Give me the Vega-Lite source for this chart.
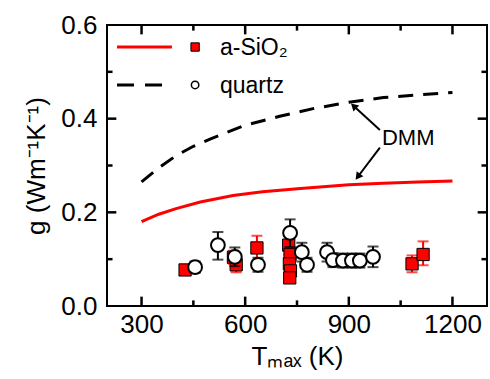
{
  "$schema": "https://vega.github.io/schema/vega-lite/v6.json",
  "width": 380,
  "height": 281,
  "autosize": "none",
  "padding": {"left": 107, "top": 25, "right": 3, "bottom": 73},
  "background": "white",
  "config": {
    "font": "Liberation Sans",
    "view": {"stroke": "black", "strokeWidth": 2},
    "axis": {
      "domain": false,
      "grid": false,
      "ticks": false,
      "labelFont": "Liberation Sans", "labelFontSize": 26, "labelColor": "black",
      "titleFont": "Liberation Sans", "titleFontSize": 26, "titleFontWeight": "normal", "titleColor": "black"
    }
  },
  "datasets": {
    "curves": [
      {"T": 300, "g": 0.18, "series": "a-SiO2"},
      {"T": 350, "g": 0.196, "series": "a-SiO2"},
      {"T": 400, "g": 0.208, "series": "a-SiO2"},
      {"T": 470, "g": 0.222, "series": "a-SiO2"},
      {"T": 565, "g": 0.236, "series": "a-SiO2"},
      {"T": 650, "g": 0.244, "series": "a-SiO2"},
      {"T": 760, "g": 0.251, "series": "a-SiO2"},
      {"T": 900, "g": 0.259, "series": "a-SiO2"},
      {"T": 1000, "g": 0.262, "series": "a-SiO2"},
      {"T": 1100, "g": 0.265, "series": "a-SiO2"},
      {"T": 1200, "g": 0.267, "series": "a-SiO2"},
      {"T": 300, "g": 0.265, "series": "quartz"},
      {"T": 350, "g": 0.295, "series": "quartz"},
      {"T": 400, "g": 0.321, "series": "quartz"},
      {"T": 450, "g": 0.341, "series": "quartz"},
      {"T": 500, "g": 0.357, "series": "quartz"},
      {"T": 600, "g": 0.386, "series": "quartz"},
      {"T": 700, "g": 0.405, "series": "quartz"},
      {"T": 800, "g": 0.422, "series": "quartz"},
      {"T": 900, "g": 0.435, "series": "quartz"},
      {"T": 1000, "g": 0.445, "series": "quartz"},
      {"T": 1100, "g": 0.451, "series": "quartz"},
      {"T": 1200, "g": 0.456, "series": "quartz"}
    ],
    "asio2": [
      {"T": 426, "g": 0.077, "lo": 0.067, "hi": 0.087},
      {"T": 566, "g": 0.104, "lo": 0.09, "hi": 0.118},
      {"T": 574, "g": 0.088, "lo": 0.072, "hi": 0.104},
      {"T": 634, "g": 0.124, "lo": 0.097, "hi": 0.15},
      {"T": 726, "g": 0.13, "lo": 0.11, "hi": 0.155},
      {"T": 730, "g": 0.11, "lo": 0.095, "hi": 0.125},
      {"T": 728, "g": 0.09, "lo": 0.078, "hi": 0.102},
      {"T": 731, "g": 0.075, "lo": 0.062, "hi": 0.088},
      {"T": 729, "g": 0.06, "lo": 0.05, "hi": 0.07},
      {"T": 1083, "g": 0.09, "lo": 0.072, "hi": 0.108},
      {"T": 1115, "g": 0.11, "lo": 0.087, "hi": 0.138}
    ],
    "quartz": [
      {"T": 455, "g": 0.083, "lo": 0.071, "hi": 0.095},
      {"T": 521, "g": 0.13, "lo": 0.099, "hi": 0.158},
      {"T": 570, "g": 0.105, "lo": 0.085, "hi": 0.125},
      {"T": 637, "g": 0.088, "lo": 0.073, "hi": 0.103},
      {"T": 730, "g": 0.156, "lo": 0.126, "hi": 0.185},
      {"T": 764, "g": 0.115, "lo": 0.095, "hi": 0.135},
      {"T": 779, "g": 0.088, "lo": 0.073, "hi": 0.103},
      {"T": 837, "g": 0.115, "lo": 0.095, "hi": 0.135},
      {"T": 854, "g": 0.098, "lo": 0.083, "hi": 0.113},
      {"T": 883, "g": 0.097, "lo": 0.082, "hi": 0.112},
      {"T": 909, "g": 0.097, "lo": 0.082, "hi": 0.112},
      {"T": 932, "g": 0.097, "lo": 0.082, "hi": 0.112},
      {"T": 970, "g": 0.105, "lo": 0.083, "hi": 0.127}
    ],
    "xticks": [
      {"T": 300, "kind": "major"}, {"T": 600, "kind": "major"}, {"T": 900, "kind": "major"}, {"T": 1200, "kind": "major"},
      {"T": 450, "kind": "minor"}, {"T": 750, "kind": "minor"}, {"T": 1050, "kind": "minor"}
    ],
    "yticks": [
      {"g": 0.2, "kind": "major"}, {"g": 0.4, "kind": "major"},
      {"g": 0.1, "kind": "minor"}, {"g": 0.3, "kind": "minor"}, {"g": 0.5, "kind": "minor"}
    ],
    "legendLines": [
      {"x": 229, "x2": 388, "g": 0.553, "series": "a-SiO2", "label": "a-SiO₂", "mx": 455, "tx": 527},
      {"x": 229, "x2": 388, "g": 0.472, "series": "quartz", "label": "quartz", "mx": 455, "tx": 527}
    ],
    "arrows": [
      {"x": 990, "y": 0.376, "x2": 914, "y2": 0.427, "which": "up"},
      {"x": 990, "y": 0.338, "x2": 926, "y2": 0.276, "which": "down"}
    ],
    "notes": [{"T": 996, "g": 0.359, "text": "DMM"}]
  },
  "layer": [
    {
      "data": {"name": "curves"},
      "transform": [{"filter": "datum.series === 'a-SiO2'"}],
      "mark": {"type": "line", "color": "#ff0000", "strokeWidth": 3},
      "encoding": {
        "x": {"field": "T", "type": "quantitative",
          "scale": {"domain": [200, 1300], "nice": false, "zero": false},
          "axis": {"orient": "bottom", "values": [300, 600, 900, 1200], "format": "d",
            "labelPadding": 5, "title": "Tₘₐₓ (K)", "titlePadding": 6}},
        "y": {"field": "g", "type": "quantitative",
          "scale": {"domain": [0, 0.6], "nice": false},
          "axis": {"orient": "left", "values": [0, 0.2, 0.4, 0.6], "format": ".1f",
            "labelPadding": 10, "title": "g (Wm⁻¹K⁻¹)", "titlePadding": 11}}
      }
    },
    {
      "data": {"name": "xticks"},
      "transform": [{"filter": "datum.kind === 'major'"}],
      "mark": {"type": "rule", "color": "black", "strokeWidth": 2.5},
      "encoding": {"x": {"field": "T", "type": "quantitative"}, "y": {"datum": 0}, "y2": {"datum": 0.02}}
    },
    {
      "data": {"name": "xticks"},
      "transform": [{"filter": "datum.kind === 'major'"}],
      "mark": {"type": "rule", "color": "black", "strokeWidth": 2.5},
      "encoding": {"x": {"field": "T", "type": "quantitative"}, "y": {"datum": 0.6}, "y2": {"datum": 0.58}}
    },
    {
      "data": {"name": "xticks"},
      "transform": [{"filter": "datum.kind === 'minor'"}],
      "mark": {"type": "rule", "color": "black", "strokeWidth": 2.5},
      "encoding": {"x": {"field": "T", "type": "quantitative"}, "y": {"datum": 0}, "y2": {"datum": 0.012}}
    },
    {
      "data": {"name": "xticks"},
      "transform": [{"filter": "datum.kind === 'minor'"}],
      "mark": {"type": "rule", "color": "black", "strokeWidth": 2.5},
      "encoding": {"x": {"field": "T", "type": "quantitative"}, "y": {"datum": 0.6}, "y2": {"datum": 0.588}}
    },
    {
      "data": {"name": "yticks"},
      "transform": [{"filter": "datum.kind === 'major'"}],
      "mark": {"type": "rule", "color": "black", "strokeWidth": 2.5},
      "encoding": {"y": {"field": "g", "type": "quantitative"}, "x": {"datum": 200}, "x2": {"datum": 227}}
    },
    {
      "data": {"name": "yticks"},
      "transform": [{"filter": "datum.kind === 'major'"}],
      "mark": {"type": "rule", "color": "black", "strokeWidth": 2.5},
      "encoding": {"y": {"field": "g", "type": "quantitative"}, "x": {"datum": 1300}, "x2": {"datum": 1273}}
    },
    {
      "data": {"name": "yticks"},
      "transform": [{"filter": "datum.kind === 'minor'"}],
      "mark": {"type": "rule", "color": "black", "strokeWidth": 2.5},
      "encoding": {"y": {"field": "g", "type": "quantitative"}, "x": {"datum": 200}, "x2": {"datum": 216}}
    },
    {
      "data": {"name": "yticks"},
      "transform": [{"filter": "datum.kind === 'minor'"}],
      "mark": {"type": "rule", "color": "black", "strokeWidth": 2.5},
      "encoding": {"y": {"field": "g", "type": "quantitative"}, "x": {"datum": 1300}, "x2": {"datum": 1284}}
    },
    {
      "data": {"name": "curves"},
      "transform": [{"filter": "datum.series === 'quartz'"}],
      "mark": {"type": "line", "color": "black", "strokeWidth": 3, "strokeDash": [15, 10]},
      "encoding": {
        "x": {"field": "T", "type": "quantitative"},
        "y": {"field": "g", "type": "quantitative"}
      }
    },
    {
      "data": {"name": "asio2"},
      "mark": {"type": "rule", "color": "#ff0000", "strokeWidth": 2},
      "encoding": {
        "x": {"field": "T", "type": "quantitative"},
        "y": {"field": "lo", "type": "quantitative"},
        "y2": {"field": "hi"}
      }
    },
    {
      "data": {"name": "asio2"},
      "mark": {"type": "tick", "orient": "horizontal", "color": "#ff0000", "size": 11, "thickness": 2},
      "encoding": {
        "x": {"field": "T", "type": "quantitative"},
        "y": {"field": "lo", "type": "quantitative"}
      }
    },
    {
      "data": {"name": "asio2"},
      "mark": {"type": "tick", "orient": "horizontal", "color": "#ff0000", "size": 11, "thickness": 2},
      "encoding": {
        "x": {"field": "T", "type": "quantitative"},
        "y": {"field": "hi", "type": "quantitative"}
      }
    },
    {
      "data": {"name": "asio2"},
      "mark": {"type": "point", "shape": "square", "filled": true, "fill": "#ff0000", "stroke": "black", "strokeWidth": 1, "size": 150, "opacity": 1},
      "encoding": {
        "x": {"field": "T", "type": "quantitative"},
        "y": {"field": "g", "type": "quantitative"}
      }
    },
    {
      "data": {"name": "quartz"},
      "mark": {"type": "rule", "color": "black", "strokeWidth": 2},
      "encoding": {
        "x": {"field": "T", "type": "quantitative"},
        "y": {"field": "lo", "type": "quantitative"},
        "y2": {"field": "hi"}
      }
    },
    {
      "data": {"name": "quartz"},
      "mark": {"type": "tick", "orient": "horizontal", "color": "black", "size": 11, "thickness": 2},
      "encoding": {
        "x": {"field": "T", "type": "quantitative"},
        "y": {"field": "lo", "type": "quantitative"}
      }
    },
    {
      "data": {"name": "quartz"},
      "mark": {"type": "tick", "orient": "horizontal", "color": "black", "size": 11, "thickness": 2},
      "encoding": {
        "x": {"field": "T", "type": "quantitative"},
        "y": {"field": "hi", "type": "quantitative"}
      }
    },
    {
      "data": {"name": "quartz"},
      "mark": {"type": "point", "shape": "circle", "filled": false, "fill": "white", "fillOpacity": 1, "stroke": "black", "strokeWidth": 2, "size": 190, "opacity": 1},
      "encoding": {
        "x": {"field": "T", "type": "quantitative"},
        "y": {"field": "g", "type": "quantitative"}
      }
    },
    {
      "data": {"name": "legendLines"},
      "transform": [{"filter": "datum.series === 'a-SiO2'"}],
      "mark": {"type": "rule", "color": "#ff0000", "strokeWidth": 3},
      "encoding": {
        "x": {"field": "x", "type": "quantitative"},
        "x2": {"field": "x2"},
        "y": {"field": "g", "type": "quantitative"}
      }
    },
    {
      "data": {"name": "legendLines"},
      "transform": [{"filter": "datum.series === 'quartz'"}],
      "mark": {"type": "rule", "color": "black", "strokeWidth": 3, "strokeDash": [17, 11]},
      "encoding": {
        "x": {"field": "x", "type": "quantitative"},
        "x2": {"field": "x2"},
        "y": {"field": "g", "type": "quantitative"}
      }
    },
    {
      "data": {"name": "legendLines"},
      "transform": [{"filter": "datum.series === 'a-SiO2'"}],
      "mark": {"type": "point", "shape": "square", "filled": true, "fill": "#ff0000", "stroke": "black", "strokeWidth": 1, "size": 70, "opacity": 1},
      "encoding": {
        "x": {"field": "mx", "type": "quantitative"},
        "y": {"field": "g", "type": "quantitative"}
      }
    },
    {
      "data": {"name": "legendLines"},
      "transform": [{"filter": "datum.series === 'quartz'"}],
      "mark": {"type": "point", "shape": "circle", "filled": false, "fill": "white", "fillOpacity": 1, "stroke": "black", "strokeWidth": 1.5, "size": 55, "opacity": 1},
      "encoding": {
        "x": {"field": "mx", "type": "quantitative"},
        "y": {"field": "g", "type": "quantitative"}
      }
    },
    {
      "data": {"name": "legendLines"},
      "mark": {"type": "text", "align": "left", "baseline": "middle", "fontSize": 23, "font": "Liberation Sans", "color": "black", "dy": 1},
      "encoding": {
        "x": {"field": "tx", "type": "quantitative"},
        "y": {"field": "g", "type": "quantitative"},
        "text": {"field": "label"}
      }
    },
    {
      "data": {"name": "arrows"},
      "mark": {"type": "rule", "color": "black", "strokeWidth": 2},
      "encoding": {
        "x": {"field": "x", "type": "quantitative"},
        "y": {"field": "y", "type": "quantitative"},
        "x2": {"field": "x2"},
        "y2": {"field": "y2"}
      }
    },
    {
      "data": {"name": "arrows"},
      "transform": [{"filter": "datum.which === 'up'"}],
      "mark": {"type": "point", "shape": "triangle-up", "filled": true, "color": "black", "size": 70, "angle": 313, "opacity": 1},
      "encoding": {
        "x": {"field": "x2", "type": "quantitative"},
        "y": {"field": "y2", "type": "quantitative"}
      }
    },
    {
      "data": {"name": "arrows"},
      "transform": [{"filter": "datum.which === 'down'"}],
      "mark": {"type": "point", "shape": "triangle-up", "filled": true, "color": "black", "size": 70, "angle": 217, "opacity": 1},
      "encoding": {
        "x": {"field": "x2", "type": "quantitative"},
        "y": {"field": "y2", "type": "quantitative"}
      }
    },
    {
      "data": {"name": "notes"},
      "mark": {"type": "text", "align": "left", "baseline": "middle", "fontSize": 22, "font": "Liberation Sans", "color": "black"},
      "encoding": {
        "x": {"field": "T", "type": "quantitative"},
        "y": {"field": "g", "type": "quantitative"},
        "text": {"field": "text"}
      }
    }
  ]
}
